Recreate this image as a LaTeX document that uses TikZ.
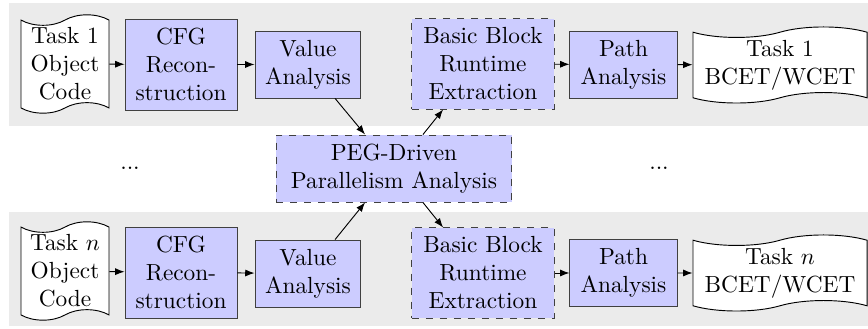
\documentclass[tikz,border=0pt]{standalone}
\usetikzlibrary{shapes.symbols,arrows.meta}
\begin{document}
\begin{tikzpicture}[x=0.4286pt,y=-0.4286pt,
  band/.style={fill=black!8,draw=none},
  proc/.style={draw=black!75,fill=blue!20,thin,align=center,inner sep=1pt},
  dproc/.style={proc,dashed},
  doc/.style={tape,draw=black,fill=white,thin,align=center,inner sep=1pt,tape bend height=4.5pt},
  arr/.style={-{Latex[length=4pt,width=3pt]},thin}]
\useasboundingbox (0,0) rectangle (868,329);
\fill[band] (9,3) rectangle (868,126);
\fill[band] (9,212) rectangle (868,326);
% top row
\node[doc,minimum width=37.7pt,minimum height=42pt] (d1) at (65,64) {Task 1\\Object\\Code};
\node[proc,minimum width=48pt,minimum height=39pt] (c1) at (181,64.5) {CFG\\Recon-\\struction};
\node[proc,minimum width=45.4pt,minimum height=28.7pt] (v1) at (308,64.5) {Value\\Analysis};
\node[dproc,minimum width=60.9pt,minimum height=38.6pt] (b1) at (483,64) {Basic Block\\Runtime\\Extraction};
\node[proc,minimum width=45.9pt,minimum height=28.7pt] (p1) at (623.5,64.5) {Path\\Analysis};
\node[doc,minimum width=74.6pt,minimum height=32.6pt] (r1) at (780,65) {Task 1\\BCET/WCET};
% middle
\node[dproc,minimum width=101pt,minimum height=28.7pt] (peg) at (394,168.5) {PEG-Driven\\Parallelism Analysis};
\node (dl) at (130,168) {...};
\node (dr) at (659,168) {...};
% bottom row
\node[doc,minimum width=37.7pt,minimum height=42pt] (dn) at (65,271) {Task $n$\\Object\\Code};
\node[proc,minimum width=48pt,minimum height=39pt] (cn) at (181,272.5) {CFG\\Recon-\\struction};
\node[proc,minimum width=45.4pt,minimum height=28.7pt] (vn) at (308,273.5) {Value\\Analysis};
\node[dproc,minimum width=60.9pt,minimum height=38.6pt] (bn) at (483,273) {Basic Block\\Runtime\\Extraction};
\node[proc,minimum width=45.9pt,minimum height=28.7pt] (pn) at (623.5,273) {Path\\Analysis};
\node[doc,minimum width=74.6pt,minimum height=32.6pt] (rn) at (780,273) {Task $n$\\BCET/WCET};
% arrows
\draw[arr] (d1) -- (c1);
\draw[arr] (c1) -- (v1);
\draw[arr] (b1) -- (p1);
\draw[arr] (p1) -- (r1);
\draw[arr] (dn) -- (cn);
\draw[arr] (cn) -- (vn);
\draw[arr] (bn) -- (pn);
\draw[arr] (pn) -- (rn);
\draw[arr] ([xshift=11.6pt]v1.south) -- ([xshift=-12.4pt]peg.north);
\draw[arr] ([xshift=12.4pt]peg.north) -- ([xshift=-17.1pt]b1.south);
\draw[arr] ([xshift=11.6pt]vn.north) -- ([xshift=-12.4pt]peg.south);
\draw[arr] ([xshift=12.4pt]peg.south) -- ([xshift=-17.1pt]bn.north);
\end{tikzpicture}
\end{document}
